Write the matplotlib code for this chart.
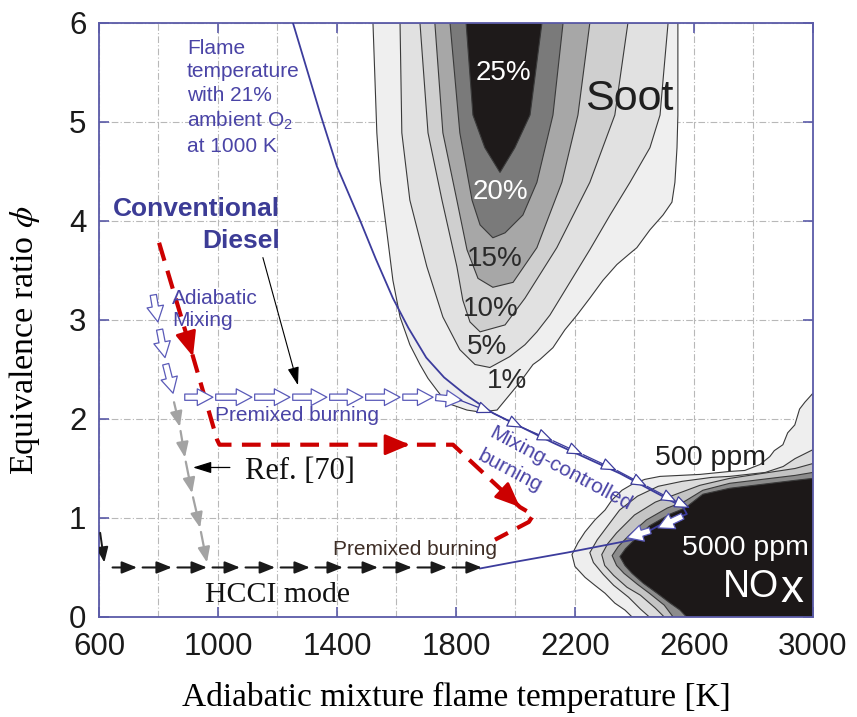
import numpy as np
import matplotlib.pyplot as plt
from matplotlib.patches import FancyArrowPatch

plt.rcParams['font.family'] = ['Liberation Sans', 'DejaVu Sans']
plt.rcParams['mathtext.fontset'] = 'stix'

# --- soot contours (T [K], phi), closed outlines, outer to inner ---
soot1_T = [1521, 1534, 1545, 1568, 1588, 1612, 1645, 1679, 1706, 1736, 1770, 1837, 1881, 1938,
           1971, 2015, 2059, 2082, 2126, 2166, 2207, 2250, 2294, 2341, 2380, 2408, 2452, 2496,
           2526, 2536, 2543, 2546, 2546]
soot1_phi = [6.0, 4.89, 4.41, 3.88, 3.40, 3.03, 2.75, 2.55, 2.41, 2.29, 2.16, 2.09, 2.07, 2.09,
             2.21, 2.37, 2.55, 2.60, 2.72, 2.90, 3.05, 3.22, 3.40, 3.56, 3.66, 3.73, 3.91, 4.06,
             4.19, 4.39, 4.74, 5.07, 6.0]
soot5_T = [1612, 1618, 1645, 1702, 1756, 1813, 1864, 1914, 1981, 2032, 2072, 2116, 2183, 2250,
           2318, 2385, 2452, 2486, 2496, 2513]
soot5_phi = [6.0, 4.89, 4.21, 3.54, 3.03, 2.70, 2.55, 2.52, 2.63, 2.75, 2.88, 3.05, 3.38, 3.71,
             4.06, 4.39, 4.74, 5.07, 5.42, 6.0]
soot10_T = [1679, 1706, 1753, 1803, 1823, 1847, 1881, 1965, 2032, 2139, 2250, 2334, 2378]
soot10_phi = [6.0, 4.89, 4.21, 3.54, 3.20, 2.98, 2.88, 2.95, 3.22, 3.73, 4.39, 5.07, 6.0]
soot15_T = [1729, 1756, 1803, 1837, 1874, 1924, 1992, 2072, 2156, 2210, 2250]
soot15_phi = [6.0, 4.89, 4.21, 3.71, 3.42, 3.33, 3.38, 3.73, 4.39, 5.07, 6.0]
soot20_T = [1780, 1813, 1854, 1881, 1924, 1965, 2025, 2072, 2126, 2160]
soot20_phi = [6.0, 4.89, 4.21, 3.96, 3.83, 3.88, 4.06, 4.39, 5.07, 6.0]
soot25_T = [1834, 1857, 1897, 1948, 1998, 2049, 2089]
soot25_phi = [6.0, 5.07, 4.74, 4.49, 4.74, 5.07, 6.0]

soot_labels = ['25%', '20%', '15%', '10%', '5%', '1%']
soot_label_T = [1958, 1948, 1931, 1918, 1904, 1971]
soot_label_phi = [5.49, 4.29, 3.62, 3.11, 2.73, 2.38]

# --- NOx contours, 500 ppm (outer) to 5000 ppm (inner) ---
nox1_T = [3000, 2973, 2955, 2939, 2915, 2899, 2870, 2855, 2822, 2771, 2720, 2687, 2620, 2553,
          2486, 2435, 2392, 2358, 2324, 2301, 2267, 2234, 2210, 2190, 2200, 2234, 2267, 2301,
          2334, 2368, 2392, 3000]
nox1_phi = [2.26, 2.17, 2.10, 1.94, 1.86, 1.74, 1.68, 1.62, 1.54, 1.48, 1.47, 1.46, 1.44, 1.43,
            1.42, 1.39, 1.34, 1.28, 1.18, 1.08, 0.98, 0.86, 0.75, 0.63, 0.51, 0.40, 0.32, 0.24,
            0.14, 0.07, 0.0, 0.0]
nox2_T = [3000, 2940, 2900, 2840, 2720, 2660, 2560, 2480, 2410, 2350, 2300, 2275, 2250, 2262,
          2295, 2330, 2380, 2420, 2450, 3000]
nox2_phi = [1.69, 1.60, 1.52, 1.46, 1.42, 1.41, 1.37, 1.32, 1.22, 1.08, 0.88, 0.78, 0.65, 0.55,
            0.43, 0.32, 0.20, 0.08, 0.0, 0.0]
nox3_T = [3000, 2940, 2830, 2720, 2620, 2540, 2470, 2400, 2340, 2310, 2290, 2300, 2330, 2375,
          2420, 2470, 2500, 3000]
nox3_phi = [1.55, 1.50, 1.45, 1.40, 1.33, 1.24, 1.16, 1.03, 0.85, 0.74, 0.63, 0.52, 0.42, 0.30,
            0.22, 0.09, 0.0, 0.0]
nox4_T = [3000, 2940, 2830, 2720, 2630, 2570, 2510, 2440, 2380, 2345, 2325, 2340, 2365, 2410,
          2450, 2500, 2530, 3000]
nox4_phi = [1.46, 1.43, 1.39, 1.35, 1.28, 1.17, 1.10, 0.98, 0.82, 0.71, 0.62, 0.52, 0.44, 0.33,
            0.24, 0.12, 0.0, 0.0]
nox5_T = [3000, 2940, 2830, 2720, 2630, 2570, 2520, 2450, 2400, 2370, 2351, 2368, 2392, 2430,
          2476, 2520, 2553, 2575, 3000]
nox5_phi = [1.40, 1.38, 1.34, 1.30, 1.24, 1.10, 1.04, 0.92, 0.78, 0.69, 0.61, 0.52, 0.44, 0.34,
            0.24, 0.14, 0.07, 0.0, 0.0]

# --- flame temperature curve (21% O2, 1000 K ambient) ---
flame_T = [1252, 1343, 1400, 1477, 1530, 1588, 1640, 1700, 1760, 1830, 1924, 2126, 2351, 2563,
           2576, 2480, 2395, 2173, 2005, 1881]
flame_phi = [6.0, 5.09, 4.55, 4.01, 3.62, 3.22, 2.92, 2.62, 2.42, 2.25, 2.06, 1.76, 1.45, 1.11,
             1.04, 0.92, 0.78, 0.65, 0.56, 0.49]

# --- conventional diesel path (red dashed) ---
red_T = [802, 916, 997, 1005, 1790, 2015, 2060, 2045, 1931]
red_phi = [3.78, 2.63, 1.79, 1.74, 1.74, 1.11, 1.03, 0.96, 0.78]
red_head_T = [916, 1645, 2015]
red_head_phi = [2.63, 1.74, 1.11]
red_from_T = [802, 1005, 1790]
red_from_phi = [3.78, 1.74, 1.74]

# --- hollow blue arrows ---
adiab_tail_T = [781, 802, 822]
adiab_tail_phi = [3.28, 2.93, 2.58]
adiab_tip_T = [798, 822, 849]
adiab_tip_phi = [2.98, 2.62, 2.26]

premix_T = [879, 983, 1114, 1242, 1366, 1487, 1612, 1723, 1820]
premix_phi = [2.22, 2.22, 2.22, 2.22, 2.22, 2.22, 2.22, 2.22, 2.19]

lean_tail_T = [2570, 2462]
lean_tail_phi = [1.03, 0.88]
lean_tip_T = [2479, 2375]
lean_tip_phi = [0.90, 0.80]

mix_T = [1813, 1924, 2025, 2126, 2227, 2341, 2442, 2543, 2587]
mix_phi = [2.19, 2.06, 1.91, 1.78, 1.64, 1.48, 1.32, 1.16, 1.10]

# --- Ref. [70] path (gray) and HCCI path (black) ---
gray_T = [849, 872, 889, 913, 940, 963]
gray_phi = [2.21, 1.92, 1.61, 1.25, 0.90, 0.55]

hcci_T = [627, 728, 845, 963, 1074, 1192, 1309, 1420, 1538, 1652, 1770, 1887]
hcci_phi = 0.5
hcci_drop_T = [604, 618]
hcci_drop_phi = [0.85, 0.55]

blue = '#4a44a6'
line_blue = '#3c3c9c'
spine_c = '#5b5ba8'
edge_c = '#3a3a3a'
serif = ['Liberation Serif', 'DejaVu Serif']

fig = plt.figure(figsize=(8.57, 7.17), dpi=100)
ax = fig.add_axes([0.1155, 0.1395, 0.8331, 0.8285])
ax.set_xlim(600, 3000)
ax.set_ylim(0, 6)

# filled contour bands
soot_fill = [(soot1_T, soot1_phi, '#efefef'), (soot5_T, soot5_phi, '#e1e1e1'),
             (soot10_T, soot10_phi, '#cfcfcf'), (soot15_T, soot15_phi, '#a7a7a7'),
             (soot20_T, soot20_phi, '#7a7a7a'), (soot25_T, soot25_phi, '#1e1a1a')]
nox_fill = [(nox1_T, nox1_phi, '#eeeeee'), (nox2_T, nox2_phi, '#dcdcdc'),
            (nox3_T, nox3_phi, '#c4c4c4'), (nox4_T, nox4_phi, '#8c8c8c'),
            (nox5_T, nox5_phi, '#1c1818')]
for xs, ys, c in soot_fill + nox_fill:
    ax.fill(xs, ys, facecolor=c, edgecolor=edge_c, linewidth=0.8, zorder=1)

for lab, x, y in zip(soot_labels, soot_label_T, soot_label_phi):
    c = 'white' if lab in ('25%', '20%') else '#2a2a2a'
    ax.text(x, y, lab, fontsize=20, color=c, ha='center', va='center', zorder=6)

ax.text(2234, 5.12, 'Soot', fontsize=31, color='#1e1e1e', zorder=6)
ax.text(2469, 1.54, '500 ppm', fontsize=20.5, color='#1e1e1e', zorder=6)
ax.text(2560, 0.63, '5000 ppm', fontsize=20.5, color='white', zorder=6)
ax.text(2697, 0.20, 'NO', fontsize=27, color='white', zorder=6)
ax.text(2890, 0.15, 'x', fontsize=33, color='white', zorder=6)

# flame temperature curve
ax.plot(flame_T, flame_phi, color=line_blue, lw=1.3, zorder=3)

# diesel path
ax.plot(red_T, red_phi, color='#cc0000', lw=3, dashes=(4.5, 2.5), zorder=4)


def head_only(tip, frm, color, lw, ms, stub=8):
    p_tip = ax.transData.transform(tip)
    p_frm = ax.transData.transform(frm)
    d = (p_frm - p_tip) / np.hypot(*(p_frm - p_tip))
    tail = ax.transData.inverted().transform(p_tip + d * stub)
    ax.annotate('', xy=tip, xytext=tail, zorder=5,
                arrowprops=dict(arrowstyle='-|>,head_length=0.9,head_width=0.38', color=color,
                                lw=lw, shrinkA=0, shrinkB=0, mutation_scale=ms))


for x, y, fx, fy in zip(red_head_T, red_head_phi, red_from_T, red_from_phi):
    head_only((x, y), (fx, fy), '#cc0000', 2.0, 17)


def hollow(tail, tip):
    ax.add_patch(FancyArrowPatch(tail, tip, mutation_scale=15, lw=0.9, fc='white', ec='#5a5ab8',
                                 arrowstyle='simple,head_length=0.75,head_width=0.8,tail_width=0.3',
                                 shrinkA=2, shrinkB=0, zorder=5))


for a, b, c, d in zip(adiab_tail_T, adiab_tail_phi, adiab_tip_T, adiab_tip_phi):
    hollow((a, b), (c, d))
for i in range(1, len(premix_T)):
    hollow((premix_T[i - 1], premix_phi[i - 1]), (premix_T[i], premix_phi[i]))
for a, b, c, d in zip(lean_tail_T, lean_tail_phi, lean_tip_T, lean_tip_phi):
    hollow((a, b), (c, d))

# mixing-controlled burning: line with open triangle heads
for i in range(1, len(mix_T)):
    ax.add_patch(FancyArrowPatch((mix_T[i - 1], mix_phi[i - 1]), (mix_T[i], mix_phi[i]),
                                 arrowstyle='-|>,head_length=0.7,head_width=0.28',
                                 mutation_scale=14, lw=0.9, fc='white', ec=line_blue,
                                 shrinkA=0, shrinkB=0, zorder=5))

# Ref. [70] (gray) arrows
for i in range(1, len(gray_T)):
    ax.add_patch(FancyArrowPatch((gray_T[i - 1], gray_phi[i - 1]), (gray_T[i], gray_phi[i]),
                                 arrowstyle='-|>,head_length=0.7,head_width=0.28',
                                 mutation_scale=13, lw=1.6, color='#a3a3a3',
                                 shrinkA=3, shrinkB=0, zorder=4))

# HCCI mode (black) arrows
ax.add_patch(FancyArrowPatch((hcci_drop_T[0], hcci_drop_phi[0]), (hcci_drop_T[1], hcci_drop_phi[1]),
                             arrowstyle='-|>,head_length=0.7,head_width=0.28', mutation_scale=13,
                             lw=1.4, color='#1a1a1a', shrinkA=0, shrinkB=0, zorder=4))
for i in range(1, len(hcci_T)):
    ax.add_patch(FancyArrowPatch((hcci_T[i - 1], hcci_phi), (hcci_T[i], hcci_phi),
                                 arrowstyle='-|>,head_length=0.7,head_width=0.28',
                                 mutation_scale=13, lw=1.5, color='#1a1a1a',
                                 shrinkA=4, shrinkB=0, zorder=4))

# pointers
ax.annotate('', xy=(1269, 2.34), xytext=(1151, 3.63), zorder=5,
            arrowprops=dict(arrowstyle='-|>,head_length=0.8,head_width=0.25', color='k',
                            lw=0.8, mutation_scale=14, shrinkA=0, shrinkB=0))
ax.annotate('', xy=(916, 1.51), xytext=(1040, 1.51), zorder=5,
            arrowprops=dict(arrowstyle='-|>,head_length=0.8,head_width=0.25', color='k',
                            lw=0.9, mutation_scale=14, shrinkA=0, shrinkB=0))

# annotations
ax.text(896, 5.84, 'Flame\ntemperature\nwith 21%\nambient $\\mathregular{O_2}$\nat 1000 K',
        fontsize=15, color=blue, va='top', ha='left', linespacing=1.3, zorder=6)
ax.text(1208, 4.12, 'Conventional', fontsize=19, fontweight='bold', color='#3c3c96',
        ha='right', va='center', zorder=6)
ax.text(1208, 3.80, 'Diesel', fontsize=19, fontweight='bold', color='#3c3c96',
        ha='right', va='center', zorder=6)
ax.text(845, 3.31, 'Adiabatic\nMixing', fontsize=15, color=blue, va='top', ha='left',
        linespacing=1.15, zorder=6)
ax.text(990, 2.03, 'Premixed burning', fontsize=15, color=blue, va='center', zorder=6)
ax.text(1387, 0.68, 'Premixed burning', fontsize=15, color='#3e2e26', va='center', zorder=6)
ax.text(2150, 1.50, 'Mixing-controlled', fontsize=15, color=blue, rotation=-28,
        ha='center', va='center', rotation_mode='anchor', zorder=6)
ax.text(1981, 1.47, 'burning', fontsize=15, color=blue, rotation=-28,
        ha='center', va='center', rotation_mode='anchor', zorder=6)
ax.text(1091, 1.47, 'Ref. [70]', fontsize=22, family=serif, color='#111111', va='center',
        zorder=6)
ax.text(956, 0.22, 'HCCI mode', fontsize=21.5, family=serif, color='#111111', va='center',
        zorder=6)

# axes, ticks, grid
ax.set_xticks(np.arange(600, 3001, 400))
ax.set_xticks(np.arange(600, 3001, 200), minor=True)
ax.set_yticks(np.arange(0, 7, 1))
ax.set_axisbelow(True)
ax.grid(which='both', color='#b8b8b8', linestyle=(0, (6, 2, 1, 2)), linewidth=0.8)
ax.tick_params(which='major', direction='in', length=7, width=1.2, color=spine_c,
               top=True, right=True, labelsize=22.5, labelcolor='#1a1a1a')
ax.tick_params(axis='x', which='major', pad=11)
ax.tick_params(axis='y', which='major', pad=9)
ax.tick_params(which='minor', length=0)
for s in ax.spines.values():
    s.set_color(spine_c)
    s.set_linewidth(1.3)

ax.set_xlabel('Adiabatic mixture flame temperature [K]', fontsize=24, family=serif)
ax.set_ylabel('Equivalence ratio $\\phi$', fontsize=24.5, family=serif)
ax.xaxis.set_label_coords(0.5, -0.11)
ax.yaxis.set_label_coords(-0.08, 0.466)

fig.savefig('out.png', dpi=100)
